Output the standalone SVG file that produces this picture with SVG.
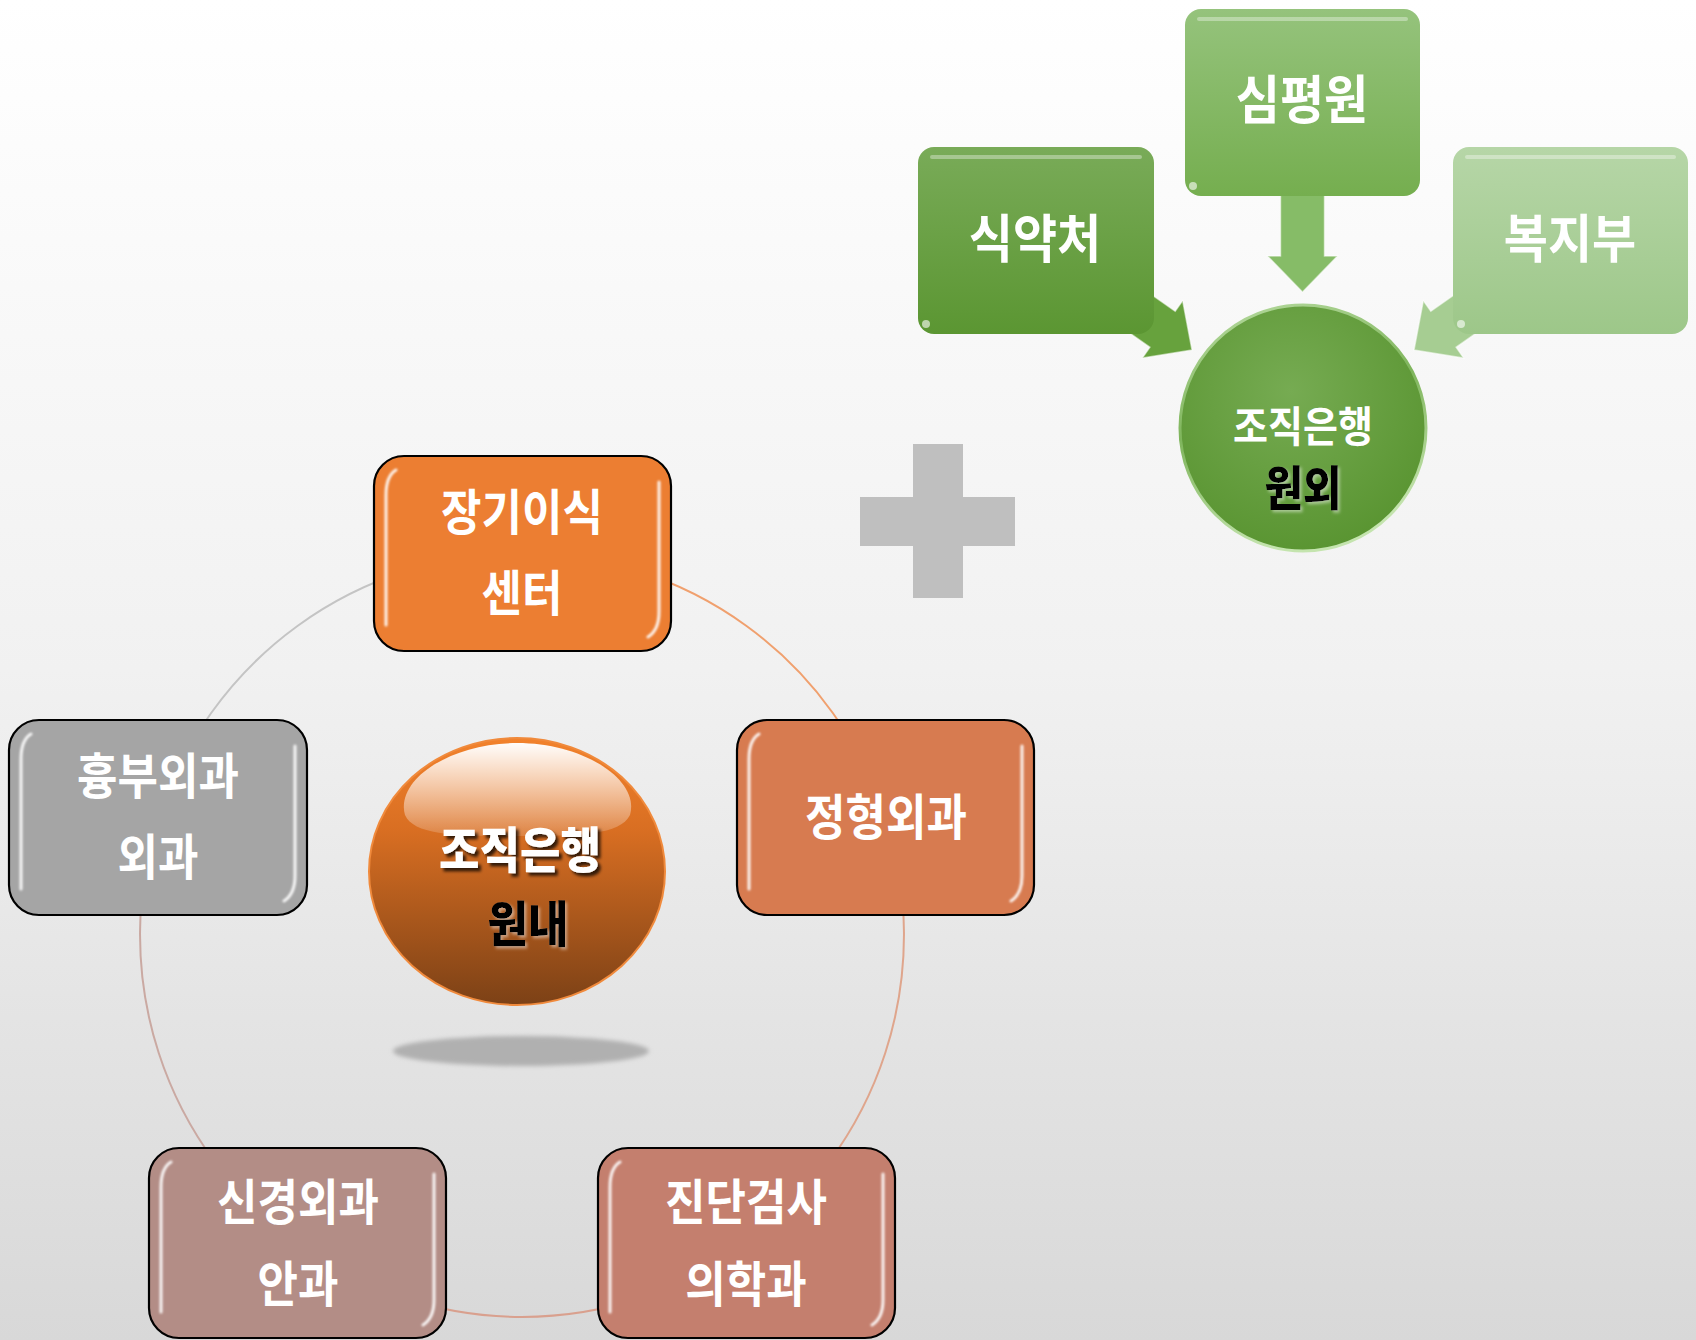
<svg xmlns="http://www.w3.org/2000/svg" width="1696" height="1340" viewBox="0 0 1696 1340">
<defs>
<linearGradient id="bg" x1="0" y1="0" x2="0" y2="1">
<stop offset="0" stop-color="#ffffff"/>
<stop offset="0.5" stop-color="#f1f1f1"/>
<stop offset="1" stop-color="#d8d8d8"/>
</linearGradient>
<linearGradient id="sphere" x1="0" y1="0" x2="0" y2="1">
<stop offset="0" stop-color="#f2822c"/>
<stop offset="0.35" stop-color="#d86e22"/>
<stop offset="1" stop-color="#7c4116"/>
</linearGradient>
<linearGradient id="sphereHi" x1="0" y1="0" x2="0" y2="1">
<stop offset="0" stop-color="#ffffff" stop-opacity="0.98"/>
<stop offset="1" stop-color="#ffffff" stop-opacity="0.15"/>
</linearGradient>
<linearGradient id="g1" x1="0" y1="0" x2="0" y2="1">
<stop offset="0" stop-color="#79ab58"/>
<stop offset="1" stop-color="#5b9632"/>
</linearGradient>
<linearGradient id="g2" x1="0" y1="0" x2="0" y2="1">
<stop offset="0" stop-color="#95c37c"/>
<stop offset="1" stop-color="#75ae4f"/>
</linearGradient>
<linearGradient id="g3" x1="0" y1="0" x2="0" y2="1">
<stop offset="0" stop-color="#b6d6a7"/>
<stop offset="1" stop-color="#9dc789"/>
</linearGradient>
<radialGradient id="gc" cx="0.45" cy="0.35" r="0.65">
<stop offset="0" stop-color="#76ab52"/>
<stop offset="1" stop-color="#5a9532"/>
</radialGradient>
<linearGradient id="gcRim" x1="0" y1="0" x2="0.3" y2="1">
<stop offset="0" stop-color="#b9dca3"/>
<stop offset="0.5" stop-color="#7fb55c"/>
<stop offset="1" stop-color="#c4e4ae"/>
</linearGradient>
<filter id="soft" x="-10%" y="-10%" width="120%" height="120%">
<feGaussianBlur stdDeviation="0.9"/>
</filter>
<filter id="tsh" x="-20%" y="-20%" width="140%" height="140%">
<feDropShadow dx="3" dy="3" stdDeviation="1.5" flood-color="#000" flood-opacity="0.75"/>
</filter>
<filter id="tshw" x="-20%" y="-20%" width="140%" height="140%">
<feDropShadow dx="2" dy="2" stdDeviation="1.5" flood-color="#ffffff" flood-opacity="0.45"/>
</filter>
<filter id="blurShadow" x="-20%" y="-50%" width="140%" height="200%">
<feGaussianBlur stdDeviation="2"/>
</filter>
</defs>
<style>
text{font-family:"Noto Sans CJK KR","Noto Sans",sans-serif;font-weight:bold;text-anchor:middle}
.bt{fill:#ffffff;font-size:44px}
.hv{font-weight:900}
.box{stroke:#000000;stroke-width:2.2}
.gloss{fill:none;stroke:#ffffff;stroke-width:3;stroke-opacity:0.9;stroke-linecap:round}
.ring{fill:none;stroke-width:2}
.ghl{fill:none;stroke:#ffffff;stroke-width:4;stroke-opacity:0.35;stroke-linecap:round}
.gt{fill:#ffffff;font-size:48px}
.arr{stroke:#ffffff;stroke-opacity:0.55;stroke-width:1.5}
</style>
<rect x="0" y="0" width="1696" height="1340" fill="url(#bg)"/>

<g id="connectors">
<path class="ring" stroke="#f0a06e" d="M522 553 A382 382 0 0 1 885.3 817"/>
<path class="ring" stroke="#dfa58c" d="M885.3 817 A382 382 0 0 1 746.5 1244"/>
<path class="ring" stroke="#d9a08e" d="M746.5 1244 A382 382 0 0 1 297.5 1244"/>
<path class="ring" stroke="#caa9a2" d="M297.5 1244 A382 382 0 0 1 158.7 817"/>
<path class="ring" stroke="#c4c4c4" d="M158.7 817 A382 382 0 0 1 522 553"/>
<polygon class="arr" fill="#86bc67" transform="translate(1302.5,292) rotate(90)" points="-112,-22 -36,-22 -36,-35 0,0 -36,35 -36,22 -112,22"/>
<polygon class="arr" fill="#67a23d" transform="translate(1192,350) rotate(35.1)" points="-150,-22 -36,-22 -36,-35 0,0 -36,35 -36,22 -150,22"/>
<polygon class="arr" fill="#a6cd92" transform="translate(1414,350) rotate(144.9)" points="-150,-22 -36,-22 -36,-35 0,0 -36,35 -36,22 -150,22"/>
</g>

<g id="plus">
<rect x="913" y="444" width="50" height="154" fill="#bfbfbf"/>
<rect x="860" y="497" width="155" height="49" fill="#bfbfbf"/>
</g>

<g id="node-center">
<ellipse cx="521" cy="1051" rx="128" ry="15" fill="#b0b0b0" filter="url(#blurShadow)"/>
<ellipse cx="517" cy="871.5" rx="148" ry="133.5" fill="url(#sphere)" stroke="#f08a3c" stroke-width="2"/>
<path d="M405 815 C395 780 450 743 517 743 C584 743 640 780 630 815 C620 835 580 836 517 836 C454 836 414 835 405 815 Z" fill="url(#sphereHi)"/>
<text class="bt hv" transform="translate(520,868) scale(1,1.12)" filter="url(#tsh)">조직은행</text>
<text class="hv" transform="translate(528,942) scale(1,1.12)" fill="#000000" font-size="44" filter="url(#tshw)">원내</text>
</g>

<g id="node-jang">
<rect class="box" x="374" y="456" width="297" height="195" rx="30" fill="#ec7e32"/>
<path class="gloss" filter="url(#soft)" d="M386 495 Q386 476 396 470 M386 495 V625 M659 482 V612 Q659 630 648 637"/>
<text class="bt" transform="translate(522,530) scale(1,1.12)">장기이식</text>
<text class="bt" transform="translate(522,611) scale(1,1.12)">센터</text>
</g>

<g id="node-jeong">
<rect class="box" x="737" y="720" width="297" height="195" rx="30" fill="#d77b50"/>
<path class="gloss" filter="url(#soft)" d="M749 759 Q749 740 759 734 M749 759 V889 M1022 746 V876 Q1022 894 1011 901"/>
<text class="bt" transform="translate(886,835) scale(1,1.12)">정형외과</text>
</g>

<g id="node-hyung">
<rect class="box" x="9" y="720" width="298" height="195" rx="30" fill="#a5a5a5"/>
<path class="gloss" filter="url(#soft)" d="M21 759 Q21 740 31 734 M21 759 V889 M295 746 V876 Q295 894 284 901"/>
<text class="bt" transform="translate(158,794) scale(1,1.12)">흉부외과</text>
<text class="bt" transform="translate(158,875) scale(1,1.12)">외과</text>
</g>

<g id="node-singyeong">
<rect class="box" x="149" y="1148" width="297" height="190" rx="30" fill="#b38d86"/>
<path class="gloss" filter="url(#soft)" d="M161 1187 Q161 1168 171 1162 M161 1187 V1312 M434 1174 V1300 Q434 1318 423 1325"/>
<text class="bt" transform="translate(298,1220) scale(1,1.12)">신경외과</text>
<text class="bt" transform="translate(298,1302) scale(1,1.12)">안과</text>
</g>

<g id="node-jindan">
<rect class="box" x="598" y="1148" width="297" height="190" rx="30" fill="#c47f6e"/>
<path class="gloss" filter="url(#soft)" d="M610 1187 Q610 1168 620 1162 M610 1187 V1312 M883 1174 V1300 Q883 1318 872 1325"/>
<text class="bt" transform="translate(746,1220) scale(1,1.12)">진단검사</text>
<text class="bt" transform="translate(746,1302) scale(1,1.12)">의학과</text>
</g>

<g id="node-sikyak">
<rect x="918" y="147" width="236" height="187" rx="16" fill="url(#g1)"/>
<path class="ghl" d="M932 157 H1140"/>
<circle cx="926" cy="324" r="4" fill="#ffffff" fill-opacity="0.6"/>
<text class="gt" transform="translate(1035,258) scale(1,1.1)">식약처</text>
</g>

<g id="node-simpyeong">
<rect x="1185" y="9" width="235" height="187" rx="16" fill="url(#g2)"/>
<path class="ghl" d="M1199 19 H1406"/>
<circle cx="1193" cy="186" r="4" fill="#ffffff" fill-opacity="0.6"/>
<text class="gt" transform="translate(1302,119) scale(1,1.1)">심평원</text>
</g>

<g id="node-bokji">
<rect x="1453" y="147" width="235" height="187" rx="16" fill="url(#g3)"/>
<path class="ghl" d="M1467 157 H1674"/>
<circle cx="1461" cy="324" r="4" fill="#ffffff" fill-opacity="0.6"/>
<text class="gt" transform="translate(1570,258) scale(1,1.1)">복지부</text>
</g>

<g id="node-outside">
<circle cx="1303" cy="428" r="123" fill="url(#gc)" stroke="url(#gcRim)" stroke-width="3"/>
<text transform="translate(1303,442) scale(1,1.1)" fill="#ffffff" font-size="38">조직은행</text>
<text class="hv" transform="translate(1303,505) scale(1,1.1)" fill="#000000" font-size="42" filter="url(#tshw)">원외</text>
</g>
</svg>
